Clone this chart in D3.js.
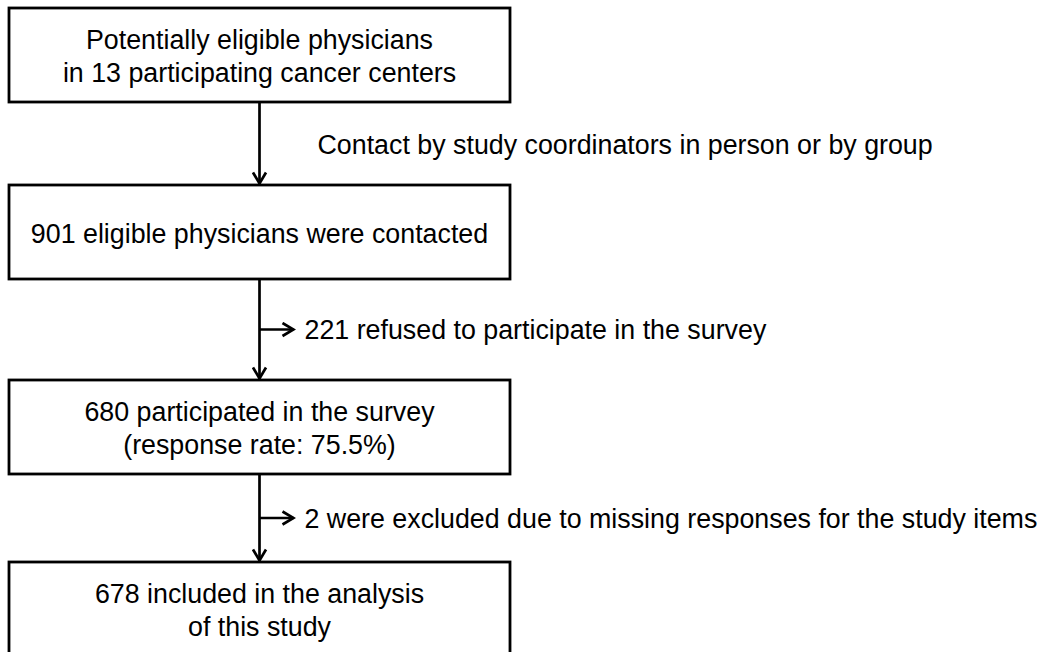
<!DOCTYPE html>
<html>
<head>
<meta charset="utf-8">
<script src="https://cdn.jsdelivr.net/npm/d3@7"></script>
<style>
  body { margin: 0; background: #fff; }
  svg { display: block; }
  text { font-family: "Liberation Sans", Arial, sans-serif; fill: #000; }
</style>
</head>
<body>
<svg></svg>
<script>
const svg_width = 1043;
const svg_height = 652;

// flow steps (box text, one entry per line)
const steps = ["eligible", "contacted", "participated", "included"];
const boxLines = [
    ["Potentially eligible physicians", "in 13 participating cancer centers"],
    ["901 eligible physicians were contacted"],
    ["680 participated in the survey", "(response rate: 75.5%)"],
    ["678 included in the analysis", "of this study"]
];
// text beside the arrow that leaves each step
const sideLabels = [
    "Contact by study coordinators in person or by group",
    "221 refused to participate in the survey",
    "2 were excluded due to missing responses for the study items"
];
// arrows leaving to the side (exclusions) or only straight down
const sideArrow = [false, true, true];

// layout
const boxTop = [8, 185, 380, 562];
const boxH = 94;
const boxX0 = 9, boxX1 = 510;
const lineH = 33;
const fontSize = 26.8;

const svg = d3.select("svg")
    .attr("width", svg_width)
    .attr("height", svg_height);

const yScale = d3.scaleOrdinal()
    .domain(steps)
    .range(boxTop);

const xMid = (boxX0 + boxX1) / 2;

svg.append("defs").append("marker")
    .attr("id", "chev")
    .attr("markerUnits", "userSpaceOnUse")
    .attr("viewBox", "-13 -8 15 16")
    .attr("markerWidth", 15)
    .attr("markerHeight", 16)
    .attr("refX", 0)
    .attr("refY", 0)
    .attr("orient", "auto")
    .append("path")
    .attr("d", "M-11,-6.5 L0,0 L-11,6.5")
    .attr("fill", "none")
    .attr("stroke", "#000")
    .attr("stroke-width", 2.7);

// arrows between boxes
const links = d3.pairs(steps);
svg.append("g").selectAll("line")
    .data(links)
    .enter()
    .append("line")
    .attr("x1", xMid)
    .attr("x2", xMid)
    .attr("y1", d => yScale(d[0]) + boxH)
    .attr("y2", d => yScale(d[1]) - 1.5)
    .attr("stroke", "#000")
    .attr("stroke-width", 2.7)
    .attr("marker-end", "url(#chev)");

// side labels / exclusion arrows
const side = svg.append("g").selectAll("g")
    .data(links)
    .enter()
    .append("g");

side.each(function(d, i) {
    const g = d3.select(this);
    const yMid = (yScale(d[0]) + boxH + yScale(d[1])) / 2;
    if (sideArrow[i]) {
        g.append("line")
            .attr("x1", xMid)
            .attr("x2", xMid + 34)
            .attr("y1", yMid)
            .attr("y2", yMid)
            .attr("stroke", "#000")
            .attr("stroke-width", 2.7)
            .attr("marker-end", "url(#chev)");
    }
    g.append("text")
        .attr("x", sideArrow[i] ? xMid + 45 : xMid + 58)
        .attr("y", yMid + (sideArrow[i] ? 9.5 : 10.5))
        .attr("font-size", fontSize)
        .text(sideLabels[i]);
});

// boxes
const boxes = svg.append("g").selectAll("g")
    .data(steps)
    .enter()
    .append("g");

boxes.append("rect")
    .attr("x", boxX0)
    .attr("y", d => yScale(d))
    .attr("width", boxX1 - boxX0)
    .attr("height", boxH)
    .attr("fill", "#fff")
    .attr("stroke", "#000")
    .attr("stroke-width", 2.8);

boxes.each(function(d, i) {
    const lines = boxLines[i];
    const cy = yScale(d) + boxH / 2;
    const first = cy - (lines.length - 1) * lineH / 2 + 9.5 + 1;
    d3.select(this).selectAll("text")
        .data(lines)
        .enter()
        .append("text")
        .attr("x", xMid)
        .attr("y", (t, j) => first + j * lineH)
        .attr("text-anchor", "middle")
        .attr("font-size", fontSize)
        .text(t => t);
});
</script>
</body>
</html>
